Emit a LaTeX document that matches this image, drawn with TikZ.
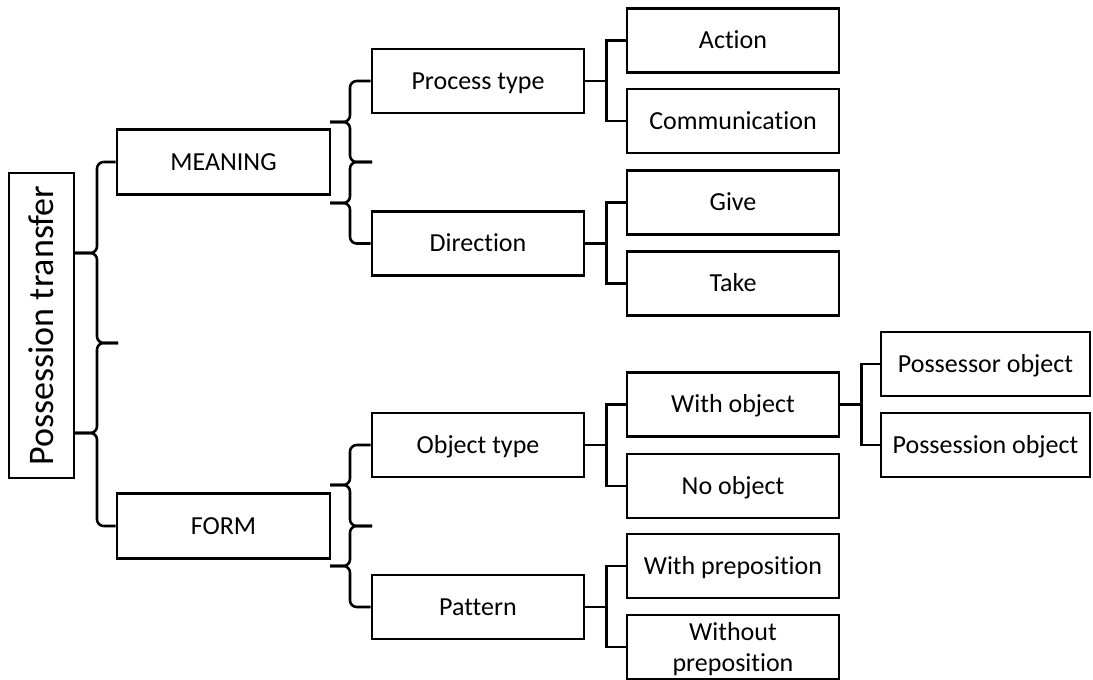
\documentclass[tikz,border=0pt]{standalone}
\usepackage{fontspec}
\setmainfont{Carlito}[RawFeature={-liga;-clig;-calt}]
\usetikzlibrary{calc}
\begin{document}
\begin{tikzpicture}[x=0.75pt,y=-0.75pt,
  box/.style={draw,line width=1.9pt,inner sep=0pt,align=center,font=\fontsize{19.5}{23.25}\selectfont},
  one/.style={text height=12.6pt,text depth=0pt},
  midbox/.style={box,one,minimum width=159.75pt,minimum height=48.5pt},
  leaf/.style={box,minimum width=159pt,minimum height=48pt},
  leafw/.style={box,one,minimum width=156.75pt,minimum height=48pt},
  link/.style={line width=1.9pt},
  brace/.style={line width=1.9pt,rounded corners=5pt}]
\useasboundingbox[fill=white] (0,0) rectangle (1093,680);

% nodes
\node[box,rotate=90,minimum width=228.75pt,minimum height=48.75pt,text height=17.4pt,text depth=0pt,font=\fontsize{27}{30}\selectfont] (root) at (41.5,325.5) {Possession transfer};
\node[midbox] (meaning) at (223.5,162) {MEANING};
\node[midbox] (form) at (223.5,526) {FORM};
\node[leaf,one] (ptype) at (478,81) {Process type};
\node[leaf,one] (dir) at (478,243.5) {Direction};
\node[leaf,one] (otype) at (478,445) {Object type};
\node[leaf,one] (pat) at (478,607) {Pattern};
\node[leaf,one] (act) at (733,40.5) {Action};
\node[leaf,one] (comm) at (733,121) {Communication};
\node[leaf,one] (give) at (733,202.5) {Give};
\node[leaf,one] (take) at (733,283.5) {Take};
\node[leaf,one] (wobj) at (733,404.5) {With object};
\node[leaf,one] (nobj) at (733,486) {No object};
\node[leaf,one] (wprep) at (733,566) {With preposition};
\node[leaf,text depth=0pt] (woprep) at (733,647) {Without\\preposition};
\node[leafw] (posr) at (985.5,364) {Possessor object};
\node[leafw] (posn) at (985.5,445) {Possession object};

% root brace
\coordinate (r1) at (74,253);
\coordinate (r2) at (118,343);
\coordinate (r3) at (74,433);
\draw[brace] (meaning.west) -| (97,253) -- (r1);
\draw[brace] (r1) -- (97,253) |- (r2);
\draw[brace] (r2) -| (97,433) -- (r3);
\draw[brace] (r3) -- (97,433) |- (form.west);

% meaning brace
\coordinate (m1) at (330,122);
\coordinate (m2) at (372,162);
\coordinate (m3) at (330,203);
\draw[brace] (ptype.west) -| (350,122) -- (m1);
\draw[brace] (m1) -- (350,122) |- (m2);
\draw[brace] (m2) -| (350,203) -- (m3);
\draw[brace] (m3) -- (350,203) |- (dir.west);

% form brace
\coordinate (f1) at (330,485);
\coordinate (f2) at (372,526);
\coordinate (f3) at (330,566);
\draw[brace] (otype.west) -| (350,485) -- (f1);
\draw[brace] (f1) -- (350,485) |- (f2);
\draw[brace] (f2) -| (350,566) -- (f3);
\draw[brace] (f3) -- (350,566) |- (pat.west);

% elbow connectors
\coordinate (j1) at ($(ptype.east)+(21,0)$);
\draw[link] (ptype.east) -- (j1);
\draw[link] (act.west) -| (j1) |- (comm.west);
\coordinate (j2) at ($(dir.east)+(21,0)$);
\draw[link] (dir.east) -- (j2);
\draw[link] (give.west) -| (j2) |- (take.west);
\coordinate (j3) at ($(otype.east)+(21,0)$);
\draw[link] (otype.east) -- (j3);
\draw[link] (wobj.west) -| (j3) |- (nobj.west);
\coordinate (j4) at ($(pat.east)+(21,0)$);
\draw[link] (pat.east) -- (j4);
\draw[link] (wprep.west) -| (j4) |- (woprep.west);
\coordinate (j5) at ($(wobj.east)+(21,0)$);
\draw[link] (wobj.east) -- (j5);
\draw[link] (posr.west) -| (j5) |- (posn.west);
\end{tikzpicture}
\end{document}
